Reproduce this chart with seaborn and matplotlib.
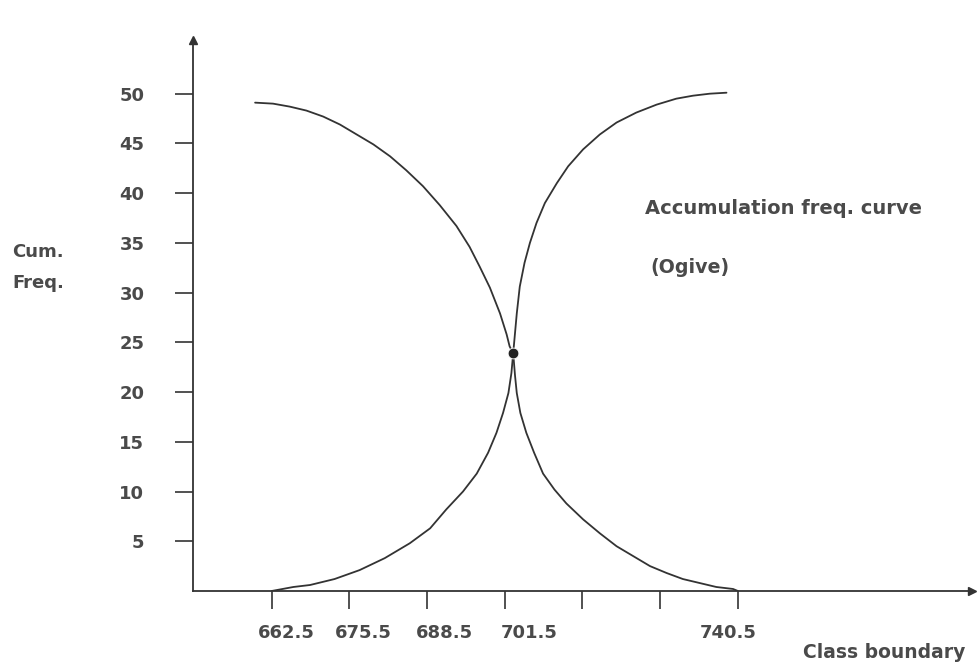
import numpy as np
import pandas as pd
import matplotlib
matplotlib.use('Agg')
import matplotlib.pyplot as plt
import matplotlib.transforms as mtransforms
import seaborn as sns

# class boundaries on the x axis
boundaries = [662.5, 675.5, 688.5, 701.5, 714.5, 727.5, 740.5]
boundary_labels = ['662.5', '675.5', '688.5', '701.5', '', '', '740.5']
freq_ticks = [5, 10, 15, 20, 25, 30, 35, 40, 45, 50]

# "less than" ogive
less_x = [662.5, 666.1, 668.9, 673.0, 677.2, 681.4, 685.6, 689.0, 691.7,
          694.5, 696.8, 698.7, 700.1, 701.2, 702.1, 702.6, 702.9,
          703.2, 703.5, 704.0, 704.8, 705.7, 706.8, 708.2, 710.2, 712.1,
          714.6, 717.4, 720.2, 723.5, 726.9, 730.2, 733.0, 735.8, 738.6]
less_y = [0.0, 0.4, 0.6, 1.2, 2.1, 3.3, 4.8, 6.3, 8.2,
          10.0, 11.8, 13.9, 15.9, 17.9, 19.9, 21.9, 23.9,
          25.9, 27.9, 30.6, 33.0, 35.0, 37.0, 39.0, 41.0, 42.7,
          44.4, 45.9, 47.1, 48.1, 48.9, 49.5, 49.8, 50.0, 50.1]

# "more than" ogive
more_x = [659.7, 662.7, 665.5, 668.3, 671.1, 673.9, 676.7, 679.5, 682.3,
          685.0, 687.8, 690.6, 693.4, 695.6, 697.3, 699.0, 700.7, 701.8,
          702.3, 702.9, 703.2, 703.5, 704.1, 705.1, 706.4, 707.9, 709.8,
          711.8, 714.6, 717.4, 720.2, 723.0, 725.8, 728.6, 731.3, 734.1,
          736.9, 739.7, 740.5]
more_y = [49.1, 49.0, 48.7, 48.3, 47.7, 46.9, 45.9, 44.9, 43.7,
          42.3, 40.7, 38.8, 36.7, 34.6, 32.6, 30.5, 27.9, 25.8,
          24.6, 23.9, 21.7, 19.9, 17.9, 15.9, 13.9, 11.8, 10.2,
          8.8, 7.2, 5.8, 4.5, 3.5, 2.5, 1.8, 1.2, 0.8,
          0.4, 0.2, 0.0]

# where the two curves meet
meet_x = [702.9]
meet_y = [23.9]

sns.set_theme(style='white')
plt.rcParams['font.family'] = ['DejaVu Sans']

ink = '#333333'
txt = '#4a4a4a'

fig = plt.figure(figsize=(9.78, 6.62), dpi=100)
ax = fig.add_axes([0.1973, 0.1073, 0.7966, 0.8323])

less_df = pd.DataFrame({'x': less_x, 'y': less_y})
more_df = pd.DataFrame({'x': more_x, 'y': more_y})
sns.lineplot(data=less_df, x='x', y='y', estimator=None, sort=False,
             color=ink, linewidth=1.3, ax=ax)
sns.lineplot(data=more_df, x='x', y='y', estimator=None, sort=False,
             color=ink, linewidth=1.3, ax=ax)
sns.scatterplot(x=meet_x, y=meet_y, color='#222222', s=60, ax=ax, zorder=5)

ax.set_xlim(649.3, 779.7)
ax.set_ylim(0, 55.4)

for side in ['top', 'right']:
    ax.spines[side].set_visible(False)
for side in ['left', 'bottom']:
    ax.spines[side].set_color(ink)
    ax.spines[side].set_linewidth(1.3)

# arrow heads on the axes
ax.plot(1, 0, '>', color=ink, markersize=6, transform=ax.transAxes, clip_on=False)
ax.plot(0, 1, '^', color=ink, markersize=6, transform=ax.transAxes, clip_on=False)

ax.set_xticks(boundaries)
ax.set_xticklabels(boundary_labels)
ax.set_yticks(freq_ticks)
ax.set_yticklabels([str(v) for v in freq_ticks])
ax.tick_params(axis='x', direction='out', length=13, width=1.2, color=ink,
               pad=11, labelsize=13, labelcolor=txt, bottom=True)
ax.tick_params(axis='y', direction='out', length=13, width=1.2, color=ink,
               pad=22, labelsize=13, labelcolor=txt, left=True)
for lab in ax.get_xticklabels() + ax.get_yticklabels():
    lab.set_fontweight('bold')

# the hand lettered x labels sit a little off their ticks
label_shift = [14, 14, 17, 24, 0, 0, -10]
for lab, dx in zip(ax.get_xticklabels(), label_shift):
    lab.set_transform(lab.get_transform() +
                      mtransforms.ScaledTranslation(dx / 100, 0, fig.dpi_scale_trans))

ax.set_xlabel('')
ax.set_ylabel('')

ax.text(724.9, 38.5, 'Accumulation freq. curve', fontsize=14,
        fontweight='bold', color=txt, va='center', ha='left')
ax.text(725.8, 32.5, '(Ogive)', fontsize=13.7, fontweight='bold',
        color=txt, va='center', ha='left')

fig.text(12 / 978, 1 - 252 / 662, 'Cum.', fontsize=13, fontweight='bold',
         color=txt, va='center', ha='left')
fig.text(12 / 978, 1 - 283 / 662, 'Freq.', fontsize=13, fontweight='bold',
         color=txt, va='center', ha='left')
fig.text(803 / 978, 1 - 652 / 662, 'Class boundary', fontsize=13.5,
         fontweight='bold', color=txt, va='center', ha='left')

fig.savefig('out.png', dpi=100, facecolor='white')
